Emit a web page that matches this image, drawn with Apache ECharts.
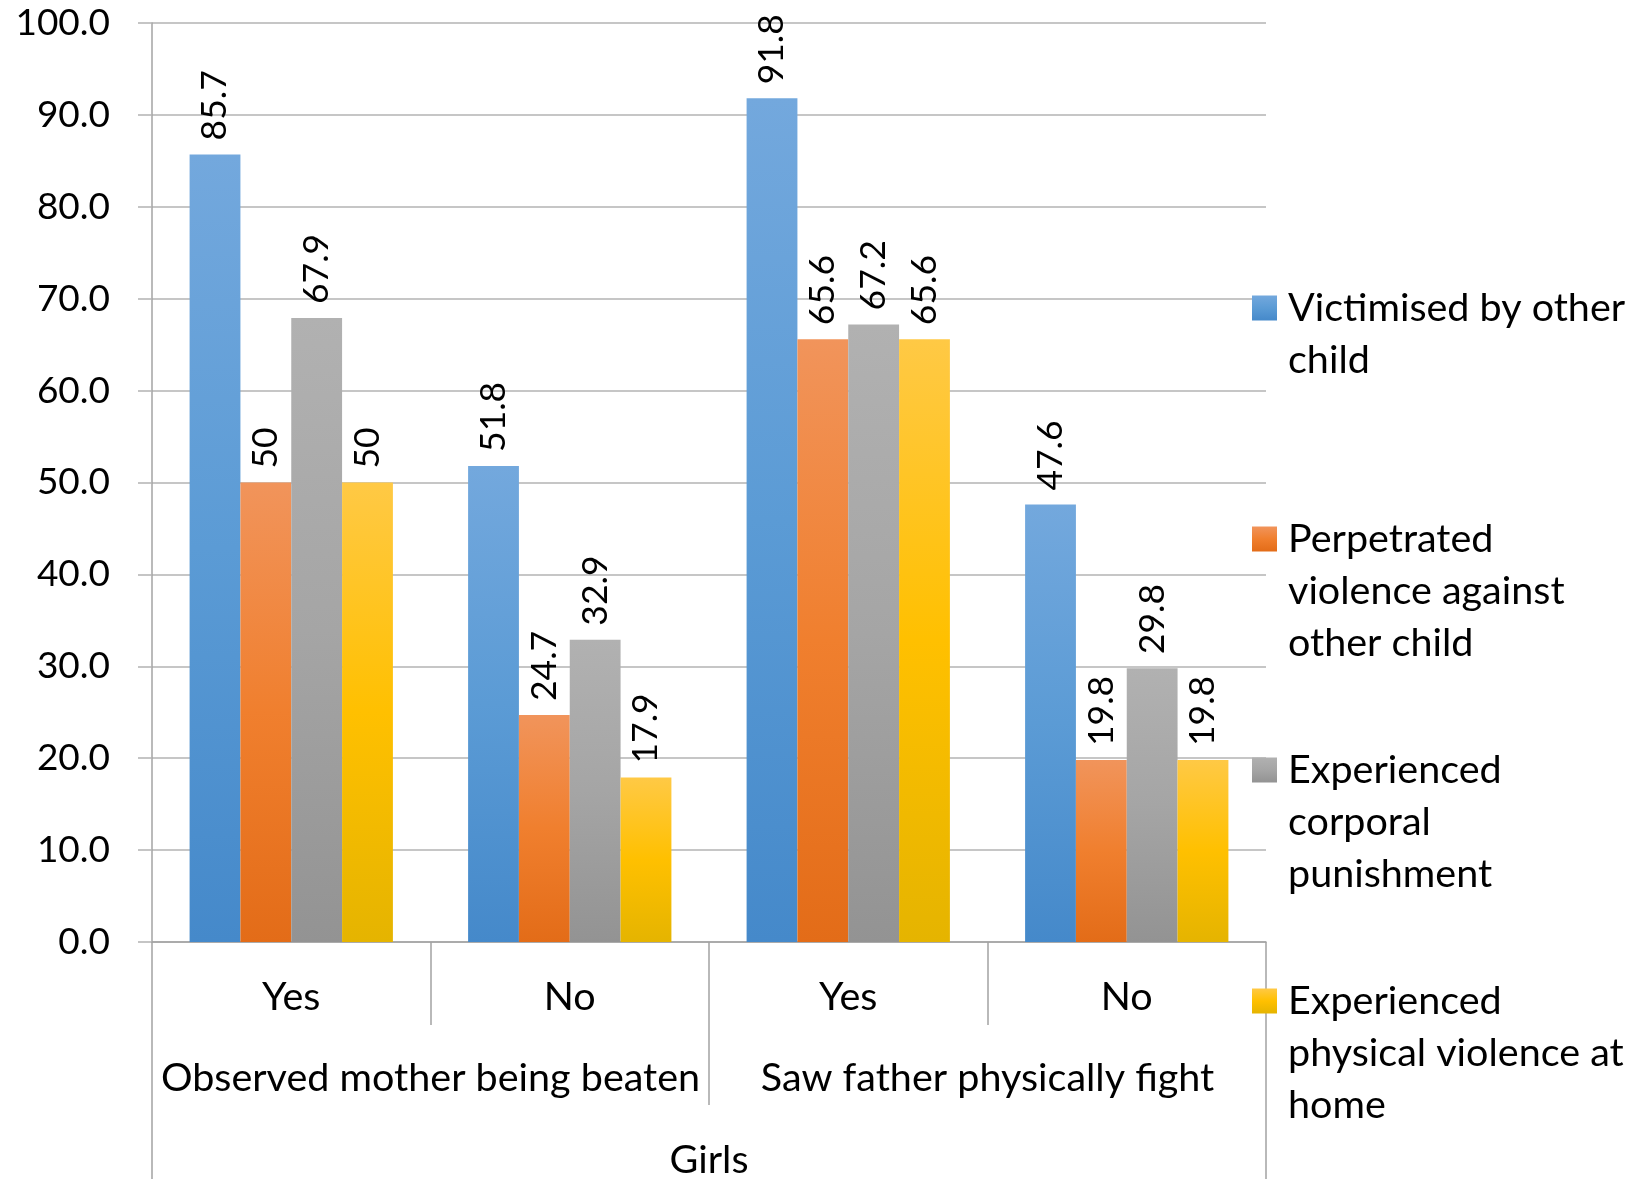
<!DOCTYPE html>
<html>
<head>
<meta charset="utf-8">
<title>Girls: exposure to violence</title>
<script src="https://cdn.jsdelivr.net/npm/echarts@6/dist/echarts.min.js"></script>
<style>
  html, body { margin: 0; padding: 0; background: #ffffff; }
  #chart { width: 1647px; height: 1179px; }
</style>
</head>
<body>
<div id="chart"></div>
<script>
// Category levels of the x axis (innermost first)
const answers = ['Yes', 'No', 'Yes', 'No'];
const questions = ['Observed mother being beaten', 'Saw father physically fight'];
const sampleGroup = ['Girls'];

// Series names and their wrapped legend text
const seriesNames = [
  'Victimised by other child',
  'Perpetrated violence against other child',
  'Experienced corporal punishment',
  'Experienced physical violence at home'
];
const legendLines = [
  ['Victimised by other', 'child'],
  ['Perpetrated', 'violence against', 'other child'],
  ['Experienced', 'corporal', 'punishment'],
  ['Experienced', 'physical violence at', 'home']
];

// Percentages per category (Yes/No, Yes/No)
const victimised   = [85.7, 51.8, 91.8, 47.6];
const perpetrated  = [50, 24.7, 65.6, 19.8];
const corporal     = [67.9, 32.9, 67.2, 29.8];
const homeViolence = [50, 17.9, 65.6, 19.8];

// Value axis range
const yMin = 0, yMax = 100, yStep = 10;

const FONT = 'Lato, "Open Sans", sans-serif';
const FS_NUM = 37;     // value axis numbers
const FS_LABEL = 35.5; // bar value labels
const FS_TXT = 39.5;   // words: category names and legend
const GRID = { left: 152, right: 381, top: 23, bottom: 237 };

// Vertical gradient fills: light top, base middle, darker bottom
function grad(top, mid, bottom) {
  return new echarts.graphic.LinearGradient(0, 0, 0, 1, [
    { offset: 0, color: top },
    { offset: 0.5, color: mid },
    { offset: 1, color: bottom }
  ]);
}
const fills = [
  grad('#73A8DD', '#5B9BD5', '#4589CA'),
  grad('#F1945B', '#F07F2E', '#E36C18'),
  grad('#B1B1B1', '#A5A5A5', '#939393'),
  grad('#FFC945', '#FFC000', '#E5B400')
];
const values = [victimised, perpetrated, corporal, homeViolence];

const series = seriesNames.map((name, i) => ({
  name: name,
  type: 'bar',
  xAxisIndex: 0,
  yAxisIndex: 0,
  data: values[i],
  barGap: 0,
  barCategoryGap: '27%',
  itemStyle: { color: fills[i] },
  label: {
    show: true,
    position: 'top',
    rotate: 90,
    align: 'left',
    verticalAlign: 'middle',
    distance: 14,
    fontFamily: FONT,
    fontSize: FS_LABEL,
    color: '#000000',
    formatter: p => String(p.value)
  }
}));

// One legend per series so each entry sits at its own height.
// Leading blank lines keep the first text line level with the swatch.
const legendCentres = [308, 539, 770, 1001];
const LINE_H = 52;
const legends = seriesNames.map((name, i) => {
  const n = legendLines[i].length;
  const lead = new Array(n - 1).fill('');
  return {
    orient: 'vertical',
    left: 1252,
    top: legendCentres[i] - (2 * n - 1) * LINE_H / 2,
    padding: 0,
    icon: 'rect',
    itemWidth: 25,
    itemHeight: 25,
    selectedMode: false,
    data: [name],
    formatter: () => lead.concat(legendLines[i]).join('\n'),
    textStyle: {
      fontFamily: FONT,
      fontSize: FS_TXT,
      color: '#000000',
      lineHeight: LINE_H,
      padding: [0, 0, 0, 6]
    }
  };
});

const axisGray = '#A3A3A3';

const option = {
  animation: false,
  backgroundColor: '#ffffff',
  grid: Object.assign({ outerBoundsMode: 'none', containLabel: false }, GRID),
  legend: legends,
  xAxis: [
    {
      type: 'category',
      position: 'bottom',
      data: answers,
      axisLine: { show: true, lineStyle: { color: axisGray, width: 1.5 } },
      axisTick: { show: true, interval: 0, length: 83, lineStyle: { color: axisGray, width: 1.5 } },
      axisLabel: { margin: 36, fontFamily: FONT, fontSize: FS_TXT, color: '#000000', lineHeight: 39 },
      splitLine: { show: false }
    },
    {
      type: 'category',
      position: 'bottom',
      data: questions,
      axisLine: { show: false },
      axisTick: { show: true, interval: 0, length: 163, lineStyle: { color: axisGray, width: 1.5 } },
      axisLabel: { margin: 117, interval: 0, fontFamily: FONT, fontSize: FS_TXT, color: '#000000', lineHeight: 39 },
      splitLine: { show: false }
    },
    {
      type: 'category',
      position: 'bottom',
      data: sampleGroup,
      axisLine: { show: false },
      axisTick: { show: true, interval: 0, length: 260, lineStyle: { color: axisGray, width: 1.5 } },
      axisLabel: { margin: 199, fontFamily: FONT, fontSize: FS_TXT, color: '#000000', lineHeight: 39 },
      splitLine: { show: false }
    }
  ],
  yAxis: {
    type: 'value',
    min: yMin,
    max: yMax,
    interval: yStep,
    axisLine: { show: true, lineStyle: { color: axisGray, width: 1.5 } },
    axisTick: { show: true, length: 14, lineStyle: { color: '#B3B3B3', width: 1.5 } },
    axisLabel: {
      margin: 42,
      fontFamily: FONT,
      fontSize: FS_NUM,
      color: '#000000',
      formatter: v => v.toFixed(1)
    },
    splitLine: { show: true, lineStyle: { color: '#B3B3B3', width: 1.5 } }
  },
  series: series
};

const chart = echarts.init(document.getElementById('chart'), null, { renderer: 'canvas' });
chart.setOption(option);
</script>
</body>
</html>
